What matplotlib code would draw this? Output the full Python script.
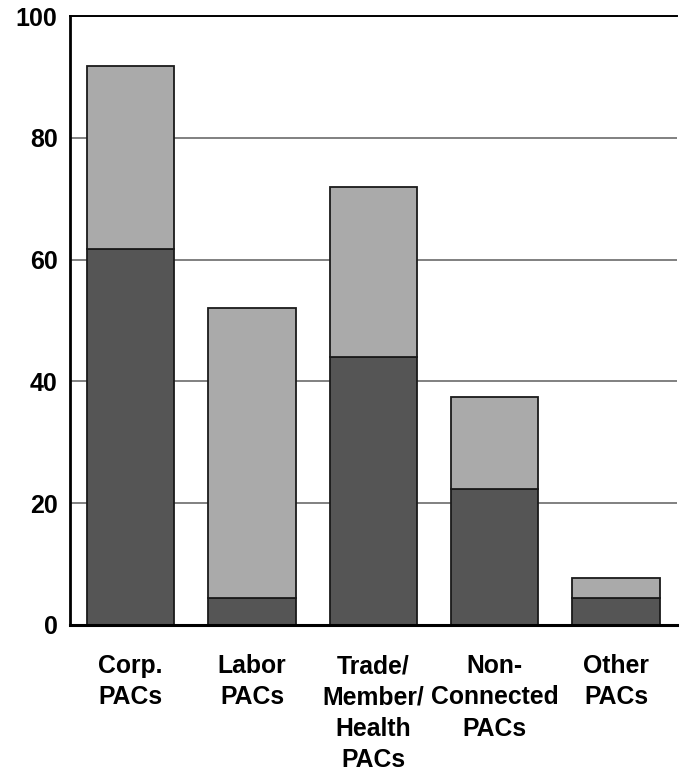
import matplotlib.pyplot as plt
import numpy as np

categories = ['Corp.\nPACs', 'Labor\nPACs', 'Trade/\nMember/\nHealth\nPACs',
              'Non-\nConnected\nPACs', 'Other\nPACs']
lower_vals = [61.8, 4.4, 44.1, 22.4, 4.4]
total_vals = [91.8, 52.0, 72.0, 37.4, 7.7]
upper_vals = [t - l for t, l in zip(total_vals, lower_vals)]

plt.rcParams['font.family'] = ['Liberation Sans', 'DejaVu Sans']

fig = plt.figure(figsize=(6.83, 7.73), dpi=100)
ax = fig.add_axes([0.1025, 0.1915, 0.8885, 0.7875])

x = np.arange(len(categories))
ax.bar(x, lower_vals, width=0.72, color='#555555', edgecolor='#1a1a1a',
       linewidth=1.3, zorder=3)
ax.bar(x, upper_vals, bottom=lower_vals, width=0.72, color='#aaaaaa',
       edgecolor='#1a1a1a', linewidth=1.3, zorder=3)

ax.set_xlim(-0.5, 4.5)
ax.set_ylim(0, 100)
ax.set_yticks(range(0, 101, 20))
ax.yaxis.grid(True, color='#808080', linewidth=1.4, zorder=0)
ax.set_axisbelow(True)

ax.spines['right'].set_visible(False)
ax.spines['top'].set_linewidth(1.4)
ax.spines['left'].set_linewidth(2)
ax.spines['bottom'].set_linewidth(2.2)
for s in ax.spines.values():
    s.set_zorder(4)

ax.set_xticks(x)
ax.set_xticklabels(categories, fontsize=17.8, fontweight='bold', linespacing=1.38,
                   va='top')
ax.tick_params(axis='x', length=0, pad=21)
ax.tick_params(axis='y', length=0, pad=9, labelsize=18)
for lbl in ax.get_yticklabels():
    lbl.set_fontweight('bold')

fig.savefig('out.png', dpi=100)
